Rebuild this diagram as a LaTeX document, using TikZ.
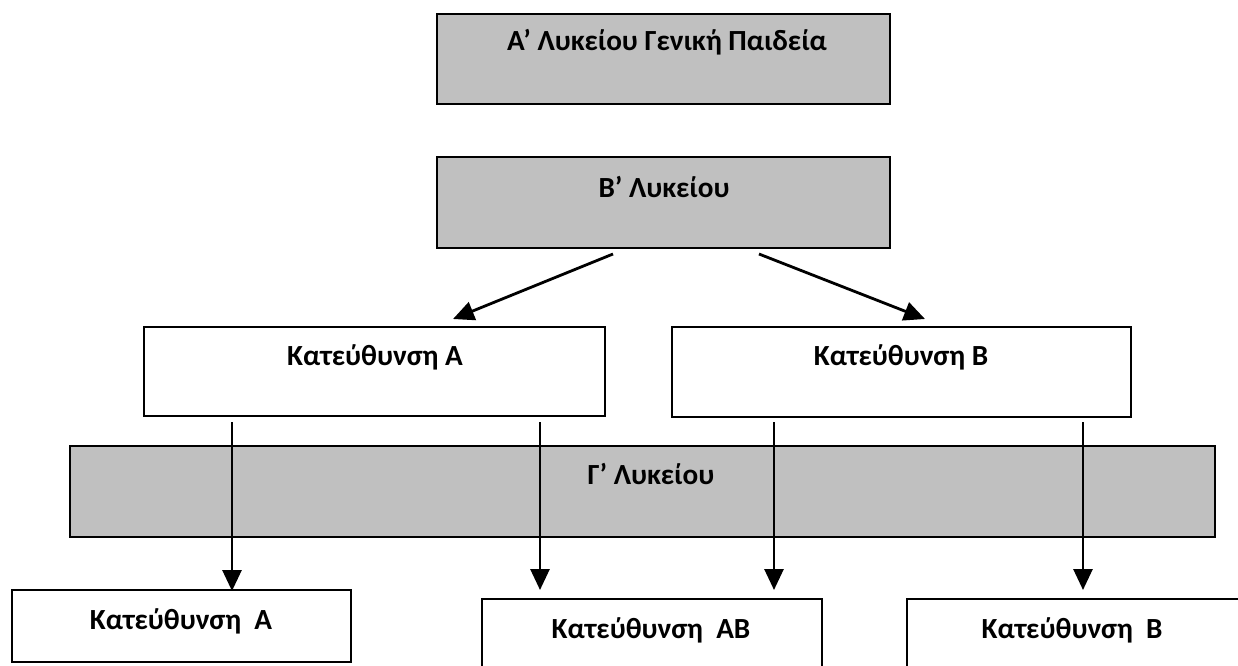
\documentclass[tikz,border=0pt]{standalone}
\usepackage{fontspec}
\setmainfont{Carlito}
\usetikzlibrary{arrows.meta,fit}
\definecolor{boxgray}{RGB}{192,192,192}
\begin{document}
\begin{tikzpicture}[x=0.5pt,y=-0.5pt,
  graybox/.style={draw=black, line width=1pt, fill=boxgray, inner sep=0pt},
  whitebox/.style={draw=black, line width=1pt, fill=white, inner sep=0pt},
  lbl/.style={font=\bfseries\fontsize{14.6}{17}\selectfont, anchor=base, inner sep=0pt},
  conn/.style={line width=1.4pt, -{Triangle[width=9.5pt,length=10.5pt]}}
]
\useasboundingbox (0,0) rectangle (1238,665);
\clip (0,0) rectangle (1238,665);
\fill[white] (0,0) rectangle (1238,665);

% boxes
\node[graybox, fit={(437,14) (890,104)}] (top) {};
\node[graybox, fit={(437,157) (890,248)}] (bly) {};
\node[whitebox, fit={(144,327) (605,416)}] (ka) {};
\node[whitebox, fit={(672,327) (1131,417)}] (kb) {};
\node[graybox, fit={(70,446) (1215,537)}] (gly) {};
\node[whitebox, fit={(12,590) (351,662)}] (ba) {};
\node[whitebox, fit={(482,599) (822,700)}] (bab) {};
\node[whitebox, fit={(907,599) (1260,700)}] (bb) {};

% labels
\node[lbl] (ttop) at (667,50) {Α’ Λυκείου Γενική Παιδεία};
\node[lbl] (tbly) at (664,197) {Β’ Λυκείου};
\node[lbl] (tka) at (375,365) {Κατεύθυνση Α};
\node[lbl] (tkb) at (901,365) {Κατεύθυνση Β};
\node[lbl] (tgly) at (651,484) {Γ’ Λυκείου};
\node[lbl] (tba) at (181,629) {Κατεύθυνση~~Α};
\node[lbl] (tbab) at (651,638) {Κατεύθυνση~~ΑΒ};
\node[lbl] (tbb) at (1072,638) {Κατεύθυνση~~Β};

% connector end points
\coordinate (s1) at (613,254);
\coordinate (e1) at (453,319);
\coordinate (s2) at (759,254);
\coordinate (e2) at (925,319);
\coordinate (v1s) at (232,422);
\coordinate (v1e) at (232,591);
\coordinate (v2s) at (540,422);
\coordinate (v2e) at (540,590);
\coordinate (v3s) at (774,422);
\coordinate (v3e) at (774,590);
\coordinate (v4s) at (1083,422);
\coordinate (v4e) at (1083,590);

\draw[conn] (s1) -- (e1);
\draw[conn] (s2) -- (e2);
\draw[conn] (v1s) -- (v1e);
\draw[conn] (v2s) -- (v2e);
\draw[conn] (v3s) -- (v3e);
\draw[conn] (v4s) -- (v4e);
\end{tikzpicture}
\end{document}
